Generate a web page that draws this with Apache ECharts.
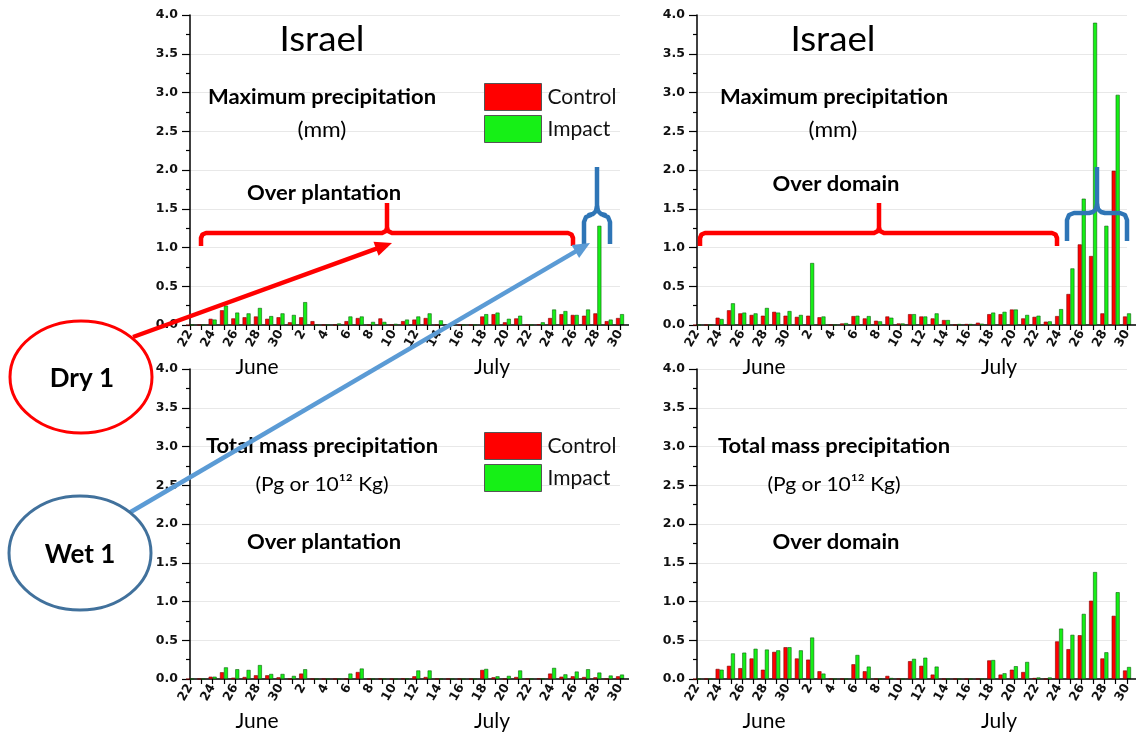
<!DOCTYPE html>
<html><head><meta charset="utf-8">
<script src="https://cdn.jsdelivr.net/npm/echarts@6/dist/echarts.min.js"></script>
<style>html,body{margin:0;padding:0;background:#fff}#c{width:1136px;height:737px}</style>
</head><body><div id="c"></div>
<script>
// Days June 22 .. July 30
const days = ['22','23','24','25','26','27','28','29','30',
  '1','2','3','4','5','6','7','8','9','10','11','12','13','14','15','16','17','18','19','20',
  '21','22','23','24','25','26','27','28','29','30'];

// Maximum precipitation (mm) over plantation
const maxPlantControl = [0,0,0.08,0.19,0.085,0.10,0.11,0.08,0.10,
  0.035,0.10,0.05,0,0,0.05,0.09,0,0.085,0,0.05,0.07,0.09,0,0,0,0,0.11,0.14,0.035,0.085,0,0.01,0.09,0.14,0.13,0.12,0.15,0.05,0.09];
const maxPlantImpact = [0,0,0.07,0.25,0.16,0.15,0.22,0.115,0.15,
  0.13,0.295,0,0,0.02,0.11,0.11,0.04,0.04,0.015,0.07,0.11,0.15,0.06,0,0,0,0.14,0.16,0.08,0.12,0,0.035,0.20,0.18,0.13,0.20,1.28,0.07,0.14];

// Maximum precipitation (mm) over domain
const maxDomainControl = [0,0,0.094,0.19,0.15,0.13,0.12,0.17,0.12,
  0.105,0.12,0.10,0,0.02,0.115,0.085,0.055,0.11,0.02,0.14,0.11,0.085,0.064,0,0.013,0.03,0.14,0.14,0.20,0.085,0.105,0.043,0.115,0.40,1.04,0.89,0.15,1.99,0.11];
const maxDomainImpact = [0,0,0.077,0.28,0.16,0.15,0.22,0.16,0.18,
  0.13,0.80,0.11,0,0.025,0.12,0.115,0.047,0.094,0.02,0.14,0.11,0.15,0.064,0.013,0.013,0.017,0.16,0.17,0.20,0.13,0.12,0.047,0.205,0.73,1.63,3.90,1.28,2.97,0.15];

// Total mass precipitation (Pg) over plantation
const massPlantControl = [0,0,0.03,0.087,0.017,0.026,0.048,0.048,0.022,
  0,0.07,0,0,0,0,0.09,0,0.003,0,0.005,0.035,0.026,0,0,0,0,0.117,0.022,0,0.026,0,0.005,0.07,0.03,0.035,0.026,0.022,0,0.035];
const massPlantImpact = [0,0,0.03,0.15,0.126,0.117,0.18,0.065,0.065,
  0.04,0.126,0,0,0,0.07,0.135,0,0.003,0,0.005,0.11,0.11,0,0,0,0,0.13,0.035,0.04,0.11,0,0.005,0.143,0.06,0.096,0.126,0.083,0.045,0.057];

// Total mass precipitation (Pg) over domain
const massDomainControl = [0,0,0.13,0.17,0.14,0.265,0.12,0.35,0.41,
  0.265,0.25,0.10,0,0,0.19,0.10,0,0.04,0,0.23,0.17,0.057,0,0,0,0,0.24,0.057,0.12,0.09,0.013,0,0.485,0.385,0.565,1.01,0.265,0.815,0.11];
const massDomainImpact = [0,0,0.12,0.33,0.34,0.39,0.38,0.37,0.41,
  0.37,0.535,0.07,0,0,0.31,0.16,0,0.013,0,0.26,0.275,0.16,0,0,0,0,0.245,0.074,0.165,0.22,0.02,0.02,0.65,0.57,0.84,1.38,0.345,1.12,0.155];

const seriesNames = ['Control','Impact'];
const monthLabels = ['June','July'];

const FONT = 'Lato';
const TICKFONT = "'DejaVu Sans'";
const RED = '#FF0000', GREEN = '#16F016';

const grids = [
  {left:190, top:15, width:430, height:310},
  {left:697, top:15, width:430, height:310},
  {left:190, top:369, width:430, height:310},
  {left:697, top:369, width:430, height:310}
];
const panels = [
  [maxPlantControl, maxPlantImpact],
  [maxDomainControl, maxDomainImpact],
  [massPlantControl, massPlantImpact],
  [massDomainControl, massDomainImpact]
];

const xAxes = grids.map((g,i)=>({
  type:'category', gridIndex:i, data:days, boundaryGap:false,
  axisLine:{lineStyle:{color:'#000', width:1.5}},
  axisTick:{interval:0, length:5, lineStyle:{color:'#000', width:1.2}},
  axisLabel:{interval:1, rotate:60, margin:6, color:'#111', fontFamily:TICKFONT, fontWeight:'bold', fontSize:12.5},
  splitLine:{show:false}
}));
const yAxes = grids.map((g,i)=>({
  type:'value', gridIndex:i, min:0, max:4, interval:0.5,
  axisLine:{show:true, lineStyle:{color:'#000', width:1.5}},
  axisTick:{show:true, length:8, lineStyle:{color:'#000', width:1.2}},
  minorTick:{show:true, splitNumber:2, length:4, lineStyle:{color:'#000', width:1.2}},
  axisLabel:{formatter:v=>v.toFixed(1), color:'#111', fontFamily:TICKFONT, fontWeight:'bold', fontSize:12.5, margin:12},
  splitLine:{show:true, lineStyle:{color:'#e8e8e8', width:1}}
}));

const series = [];
panels.forEach((p,i)=>{
  p.forEach((vals,k)=>{
    series.push({
      type:'bar', name:seriesNames[k], xAxisIndex:i, yAxisIndex:i, data:vals,
      barWidth:4, barGap:'0%',
      itemStyle:{color:k===0?RED:GREEN, borderColor:k===0?'#7a0000':'#0b5e0b', borderWidth:0.6},
      emphasis:{disabled:true}, animation:false
    });
  });
});

function txt(x,y,t,size,bold,sx,z){
  return {type:'text', z:z||50, x:x, y:y, scaleX:sx||1,
    style:{x:0, y:0, text:t, fill:'#000',
    font:(bold?'bold ':'')+size+'px '+FONT, textAlign:'center', textVerticalAlign:'middle'}};
}
function poly(points,color,w){
  return {type:'polyline', z:60, shape:{points:points}, style:{stroke:color, lineWidth:w, fill:null, lineJoin:'round', lineCap:'butt'}};
}
function arrow(x1,y1,x2,y2,color,w){
  const dx=x2-x1, dy=y2-y1, L=Math.hypot(dx,dy), ux=dx/L, uy=dy/L, nx=-uy, ny=ux;
  const hl=17, hw=15;
  const bx=x2-ux*hl, by=y2-uy*hl;
  return [
    {type:'line', z:70, shape:{x1:x1,y1:y1,x2:bx+ux*2,y2:by+uy*2}, style:{stroke:color, lineWidth:w}},
    {type:'polygon', z:70, shape:{points:[[x2,y2],[bx+nx*hw/2,by+ny*hw/2],[bx-nx*hw/2,by-ny*hw/2]]}, style:{fill:color}}
  ];
}

const graphic = [];
graphic.push(txt(322,40,'Israel',35,false,1.05), txt(833,40,'Israel',35,false,1.05));
graphic.push(txt(322,98,'Maximum precipitation',20,true,1.1), txt(834,98,'Maximum precipitation',20,true,1.1));
graphic.push(txt(322,130,'(mm)',21,false,1.08), txt(833,130,'(mm)',21,false,1.08));
graphic.push(txt(324,194,'Over plantation',20,true,1.1), txt(836,185,'Over domain',20,true,1.1));
graphic.push(txt(322,447,'Total mass precipitation',20,true,1.1), txt(834,447,'Total mass precipitation',20,true,1.1));
graphic.push(txt(322,485,'(Pg or 10\u00B9\u00B2 Kg)',20,false,1.05), txt(834,485,'(Pg or 10\u00B9\u00B2 Kg)',20,false,1.05));
graphic.push(txt(324,543,'Over plantation',20,true,1.1), txt(836,543,'Over domain',20,true,1.1));
// month labels
grids.forEach(g=>{
  const y = g.top+g.height+42;
  graphic.push(txt(g.left+67,y,monthLabels[0],21,false), txt(g.left+302,y,monthLabels[1],21,false));
});
// extend x axis lines slightly beyond last day
grids.forEach(g=>{
  graphic.push({type:'line', z:40, shape:{x1:g.left+g.width, y1:g.top+g.height, x2:g.left+g.width+9, y2:g.top+g.height}, style:{stroke:'#000', lineWidth:1.5}});
});
// red brackets
function redBracket(x1,xm,x2){
  graphic.push(poly([[x1,246],[x1,238],[x1+1.5,234.5],[x1+5,233],[xm-5,233],[xm-1,231],[xm,228],[xm,203]],RED,4.5));
  graphic.push(poly([[xm,228],[xm+1,231],[xm+5,233],[x2-5,233],[x2-1.5,234.5],[x2,238],[x2,246]],RED,4.5));
}
redBracket(201,387,573);
redBracket(700,879,1057);
// blue curly brackets
function blueBracket(x1,xm,x2,yTop,yH,yEnd){
  const c='#2E75B6';
  graphic.push(poly([[xm,yTop],[xm,yH-9],[xm-1,yH-4],[xm-4,yH-1],[xm-8,yH],[x1+7,yH],[x1+2,yH+2],[x1,yH+7],[x1,yEnd]],c,4.5));
  graphic.push(poly([[xm,yH-9],[xm+1,yH-4],[xm+4,yH-1],[xm+8,yH],[x2-7,yH],[x2-2,yH+2],[x2,yH+7],[x2,yEnd]],c,4.5));
}
blueBracket(584,597,610,167,215,244);
blueBracket(1067,1097,1127,167,213,241);
// arrows
graphic.push(...arrow(133,337,392,243,RED,4.5));
graphic.push(...arrow(129,513,590,243,'#5B9BD5',4.5));
// ellipses
graphic.push({type:'ellipse', z:80, shape:{cx:81,cy:377,rx:71,ry:56}, style:{fill:'#fff', stroke:RED, lineWidth:3}});
graphic.push({type:'ellipse', z:80, shape:{cx:80,cy:553,rx:71,ry:57}, style:{fill:'#fff', stroke:'#41719C', lineWidth:3}});
graphic.push(txt(82,379,'Dry 1',26,true,1,90), txt(80,555,'Wet 1',26,true,1,90));

const legendBase = {orient:'vertical', left:484, itemWidth:57, itemHeight:27, itemGap:4, icon:'rect',
  data:seriesNames, selectedMode:false, padding:0,
  itemStyle:{borderColor:'#555', borderWidth:1},
  textStyle:{fontFamily:FONT, fontSize:21, color:'#111', padding:[0,0,0,1]}};

const chart = echarts.init(document.getElementById('c'), null, {renderer:'canvas'});
chart.setOption({
  animation:false,
  backgroundColor:'#fff',
  grid:grids.map(g=>Object.assign({containLabel:false},g)),
  xAxis:xAxes, yAxis:yAxes, series:series,
  legend:[Object.assign({top:83},legendBase), Object.assign({top:432},legendBase)],
  graphic:graphic
});
</script></body></html>
